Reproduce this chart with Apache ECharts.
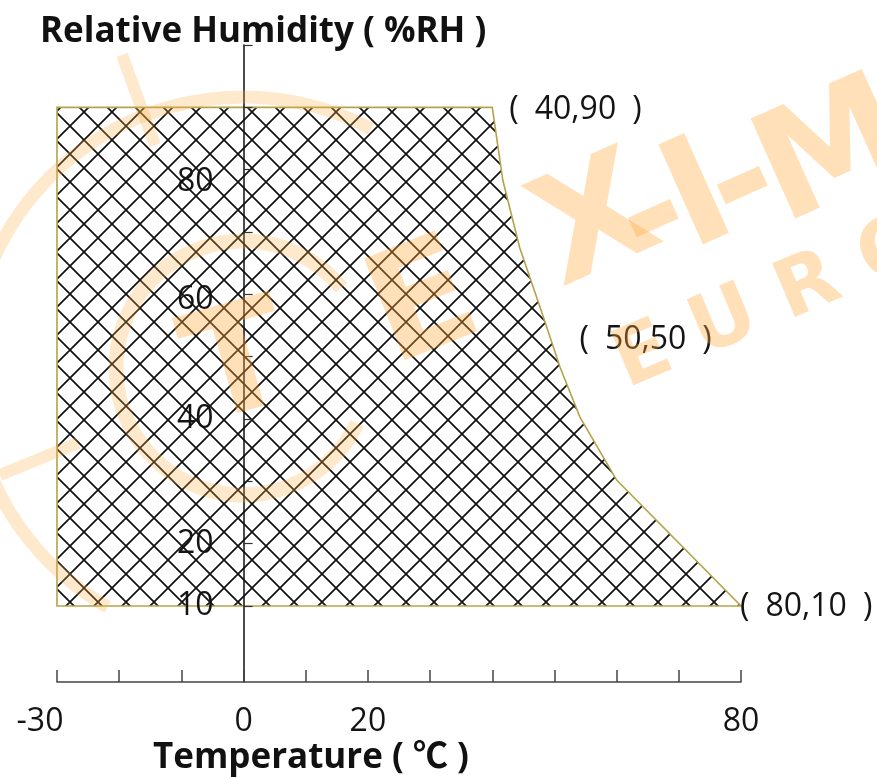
<!DOCTYPE html>
<html>
<head>
<meta charset="utf-8">
<script src="https://cdn.jsdelivr.net/npm/echarts@6/dist/echarts.min.js"></script>
<style>
html,body{margin:0;padding:0;background:#fff}
#chart{width:877px;height:778px}
</style>
</head>
<body>
<div id="chart"></div>
<script>
// operating range outline (temperature, humidity)
var tempEdge=[-30,-30,40,41.7,44.4,48,50.9,54.1,60,80];
var rhEdge=[10,90,90,78.3,67.5,57,48.3,40.3,30.2,10];
// corner marks
var markTemp=[40,50,80];
var markRh=[90,50,10];
var markText=['(\u200240,90\u2002)','(\u200250,50\u2002)','(\u200280,10\u2002)'];
// axis ticks / labels
var xTicks=[-30,-20,-10,0,10,20,30,40,50,60,70,80];
var xLabels=[-30,0,20,80];
var yTicks=[10,20,30,40,50,60,70,80,90,100];
var yLabels=[10,20,40,60,80];

var FONT='"Open Sans","Noto Sans CJK SC",sans-serif';
var WM='rgba(255,170,60,0.36)';
var WM2='rgba(250,175,70,0.27)';
var TXT='#141414';
var LBL={fontSize:32,color:TXT,fontFamily:FONT};

//crosshatch tile
function makeHatch(s){
    var c=document.createElement('canvas');
    c.width=s;c.height=s;
    var g=c.getContext('2d');
    g.strokeStyle='#111';
    g.lineWidth=1.7;
    for(var k=-1;k<=1;k++){
        g.beginPath();
        g.moveTo(k*s-2,-2);g.lineTo(k*s+s+2,s+2);
        g.moveTo(k*s+s+2,-2);g.lineTo(k*s-2,s+2);
        g.stroke();
    }
    return c;
}
var hatch=makeHatch(28);

//watermark glyph
function wmText(t,x,y,rot,size){
    return {type:'text',silent:true,z:20,x:x,y:y,rotation:rot,
        style:{text:t,fontSize:size,fontWeight:'bold',fontFamily:'DejaVu Sans',fill:WM,align:'center',verticalAlign:'middle'}};
}

var myChart=echarts.init(document.getElementById('chart'));
var labelShift=[[17,3],[25,-17],[-1,1]];

var option={
    animation:false,
    backgroundColor:'#fff',
    grid:{left:57,right:136,top:45,bottom:96,outerBoundsMode:'none',containLabel:false},
    xAxis:{
        type:'value',min:-30,max:80,interval:10,z:5,
        axisLine:{onZero:false,lineStyle:{color:'#444',width:1.5}},
        axisTick:{inside:true,length:12,customValues:xTicks,lineStyle:{color:'#444',width:1.5}},
        axisLabel:{
            customValues:xLabels,fontSize:32,color:TXT,margin:24,fontFamily:FONT,
            formatter:function(v){return v<0?'{neg|'+v+'}':''+v;},
            rich:{neg:Object.assign({padding:[0,34,0,0]},LBL)}
        },
        splitLine:{show:false}
    },
    yAxis:{
        type:'value',min:-2.2,max:100,z:5,
        position:'left',offset:-186.6,
        axisLine:{onZero:false,lineStyle:{color:'#111',width:1.5}},
        axisTick:{inside:true,length:9,customValues:yTicks,lineStyle:{color:'#333',width:1.2}},
        axisLabel:{
            customValues:yLabels,fontSize:32,color:TXT,margin:30,fontFamily:FONT,
            formatter:function(v){
                if(v==80)return '{a|80}';
                if(v==60)return '{b|60}';
                return ''+v;
            },
            rich:{a:Object.assign({padding:[24,0,0,0]},LBL),b:Object.assign({padding:[11,0,0,0]},LBL)}
        },
        splitLine:{show:false}
    },
    series:[{
        type:'custom',
        z:2,
        data:[[tempEdge[0],rhEdge[0]]],
        renderItem:function(params,api){
            var pts=[];
            for(var i=0;i<tempEdge.length;i++){
                pts.push(api.coord([tempEdge[i],rhEdge[i]]));
            }
            return {
                type:'polygon',
                shape:{points:pts},
                style:{fill:{image:hatch,repeat:'repeat'},stroke:'#b5a24a',lineWidth:1.6}
            };
        }
    },{
        type:'custom',
        z:6,
        data:markTemp.map(function(t,i){return [t,markRh[i]];}),
        renderItem:function(params,api){
            var i=params.dataIndex;
            var p=api.coord([api.value(0),api.value(1)]);
            return {
                type:'text',
                x:p[0]+labelShift[i][0],y:p[1]+labelShift[i][1],
                style:{text:markText[i],fill:TXT,fontSize:32,fontFamily:FONT,verticalAlign:'middle'}
            };
        }
    }],
    graphic:[
        {type:'text',x:40,y:32,z:10,style:{text:'Relative Humidity ( %RH )',fontSize:35,fontWeight:'bold',fill:'#111',fontFamily:FONT,verticalAlign:'middle'}},
        {type:'text',x:153,y:758,z:10,style:{text:'Temperature ( \u2103 )',fontSize:35,fontWeight:'bold',fill:'#111',fontFamily:FONT,verticalAlign:'middle'}},
        //watermark
        {type:'arc',silent:true,z:20,shape:{cx:243,cy:370,r:273,startAngle:2.09,endAngle:5.2,clockwise:true},style:{stroke:WM2,lineWidth:13,fill:'none'}},
        {type:'arc',silent:true,z:20,shape:{cx:243,cy:368,r:127,startAngle:0.45,endAngle:5.6,clockwise:true},style:{stroke:WM2,lineWidth:15,fill:'none'}},
        {type:'line',silent:true,z:20,shape:{x1:122,y1:55,x2:155,y2:145},style:{stroke:WM2,lineWidth:12}},
        {type:'line',silent:true,z:20,shape:{x1:0,y1:475,x2:78,y2:443},style:{stroke:WM2,lineWidth:12}},
        wmText('T',240,372,0.28,150),
        wmText('E',425,310,0.38,150),
        wmText('X',598,228,0.42,150),
        wmText('-',655,222,0.42,150),
        wmText('I',700,203,0.42,150),
        wmText('-',744,189,0.42,150),
        wmText('M',835,158,0.42,150),
        {type:'text',silent:true,z:20,x:772,y:304,rotation:0.4,style:{text:'E U R O',fontSize:80,fontWeight:'bold',fontFamily:'DejaVu Sans',fill:WM,align:'center',verticalAlign:'middle'}}
    ]
};
myChart.setOption(option);
</script>
</body>
</html>
